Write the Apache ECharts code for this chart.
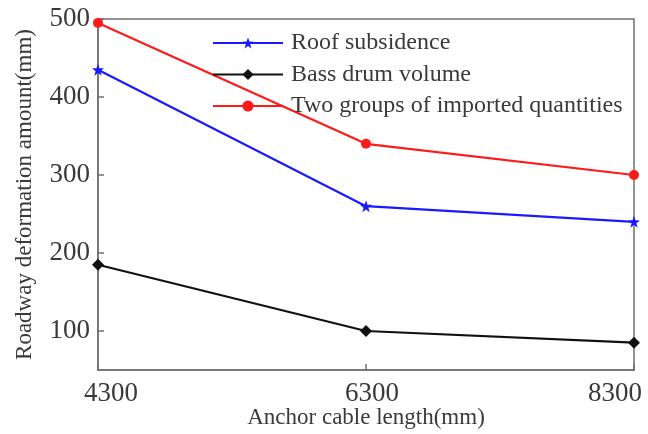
<!DOCTYPE html>
<html>
<head>
<meta charset="utf-8">
<script src="https://cdn.jsdelivr.net/npm/echarts@6/dist/echarts.min.js"></script>
<style>
  html, body { margin: 0; padding: 0; background: #fff; }
  #chart { width: 648px; height: 434px; }
</style>
</head>
<body>
<div id="chart"></div>
<script>
// Anchor cable length (mm) on the horizontal axis
const cableLengths = ['4300', '6300', '8300'];
// Deformation amounts (mm) per cable length
const roofSubsidence = [435, 260, 240];
const bassDrumVolume = [185, 100, 85];
const importedQuantities = [495, 340, 300];
// Labelled ticks on the vertical axis
const yTickValues = [100, 200, 300, 400, 500];

const serif = '"Liberation Serif", "Times New Roman", serif';
const textColor = '#3a3a3a';
const frameColor = '#707070';

const chart = echarts.init(document.getElementById('chart'));

function lineSeries(name, data, color, symbol, size) {
  return {
    name: name,
    type: 'line',
    data: data,
    symbol: symbol,
    symbolSize: size,
    lineStyle: { color: color, width: 2.2 },
    itemStyle: { color: color },
    emphasis: { disabled: true }
  };
}

// category labels are nudged so the end ones stay inside the canvas
const xLabelStyle = { fontFamily: serif, fontSize: 27, color: textColor };

chart.setOption({
  animation: false,
  backgroundColor: '#fff',
  grid: {
    left: 98, right: 14, top: 19, bottom: 64,
    outerBoundsMode: 'none',
    containLabel: false,
    show: true, borderColor: frameColor, borderWidth: 1.5, backgroundColor: 'transparent'
  },
  legend: {
    orient: 'vertical',
    left: 207, top: 26,
    itemWidth: 70, itemHeight: 14,
    itemGap: 7.5,
    textStyle: { fontFamily: serif, fontSize: 24, lineHeight: 22, color: textColor, padding: [0, 0, 0, 3] },
    data: ['Roof subsidence', 'Bass drum volume', 'Two groups of imported quantities']
  },
  xAxis: {
    type: 'category',
    data: cableLengths,
    boundaryGap: false,
    name: 'Anchor cable length(mm)',
    nameLocation: 'middle',
    nameGap: 36,
    nameMoveOverlap: false,
    nameTextStyle: { fontFamily: serif, fontSize: 23, color: textColor, verticalAlign: 'top' },
    axisLine: { lineStyle: { color: frameColor, width: 1.5 } },
    axisTick: { inside: true, length: 6, lineStyle: { color: frameColor, width: 1.5 } },
    axisLabel: {
      margin: 10,
      formatter: function (v, i) { return '{p' + i + '|' + v + '}'; },
      rich: {
        p0: Object.assign({ padding: [0, 0, 0, 26] }, xLabelStyle),
        p1: Object.assign({ padding: [0, 0, 0, 12] }, xLabelStyle),
        p2: Object.assign({ padding: [0, 38, 0, 0] }, xLabelStyle)
      }
    },
    splitLine: { show: false }
  },
  yAxis: {
    type: 'value',
    min: 50, max: 500,
    name: 'Roadway deformation amount(mm)',
    nameLocation: 'middle',
    nameGap: 62,
    nameMoveOverlap: false,
    nameTextStyle: { fontFamily: serif, fontSize: 23, color: textColor },
    axisLine: { show: true, lineStyle: { color: frameColor, width: 1.5 } },
    axisTick: { show: true, inside: true, length: 6, customValues: yTickValues, lineStyle: { color: frameColor, width: 1.5 } },
    axisLabel: { fontFamily: serif, fontSize: 27, color: textColor, margin: 8, customValues: yTickValues },
    splitLine: { show: false }
  },
  series: [
    lineSeries('Roof subsidence', roofSubsidence, '#1a1aff', 'path://M0,-10L2.35,-3.24L9.51,-3.09L3.8,1.24L5.88,8.09L0,4L-5.88,8.09L-3.8,1.24L-9.51,-3.09L-2.35,-3.24Z', 12),
    lineSeries('Bass drum volume', bassDrumVolume, '#111111', 'diamond', 12),
    lineSeries('Two groups of imported quantities', importedQuantities, '#ff1a1a', 'circle', 10)
  ]
});
</script>
</body>
</html>
